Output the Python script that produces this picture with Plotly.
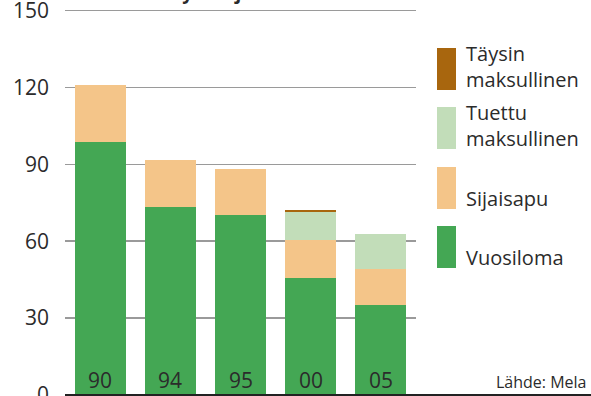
import plotly.graph_objects as go

years = ["90", "94", "95", "00", "05"]
vuosiloma = [98.7, 73.4, 70.1, 45.6, 35.1]
sijaisapu = [22.4, 18.1, 17.9, 14.8, 14.0]
tuettu = [0, 0, 0, 10.9, 13.6]
taysin = [0, 0, 0, 0.8, 0]

series_names = ["Vuosiloma", "Sijaisapu", "Tuettu<br>maksullinen", "Täysin<br>maksullinen"]
series_values = [vuosiloma, sijaisapu, tuettu, taysin]
colors = ["#44a754", "#f4c589", "#c2ddb9", "#a8660e"]

y_ticks = [0, 30, 60, 90, 120, 150]
title_text = "Tuhatta maatalousyrittäjää"
source_text = "Lähde: Mela"

W, H = 591, 396
L, R_EDGE, T, B_EDGE = 65, 416, 8, 395
PW, PH = R_EDGE - L, B_EDGE - T

def px(x):
    return (x - L) / PW

def py(y):
    return (B_EDGE - y) / PH

FONT = "Open Sans"
TXT = "#2b2b2b"

fig = go.Figure()
for name, vals, col in zip(series_names, series_values, colors):
    fig.add_trace(go.Bar(x=years, y=vals, name=name, marker=dict(color=col, line=dict(width=0)),
                         showlegend=False, hoverinfo="skip"))

annotations = []
for i, yr in enumerate(years):
    annotations.append(dict(x=i, xref="x", y=py(380), yref="paper", text=yr, showarrow=False,
                            font=dict(family=FONT, size=21, color=TXT), xanchor="center", yanchor="middle"))

shapes = []
legend_order = [3, 2, 1, 0]
sw_tops = [48, 107, 167, 226]
for idx, top in zip(legend_order, sw_tops):
    shapes.append(dict(type="rect", xref="paper", yref="paper", x0=px(437), x1=px(456),
                       y0=py(top + 42), y1=py(top), fillcolor=colors[idx], line=dict(width=0), layer="above"))
    annotations.append(dict(x=px(465), xref="paper", y=py(top + 46), yref="paper",
                            text=series_names[idx], showarrow=False, align="left",
                            font=dict(family=FONT, size=20, color=TXT),
                            xanchor="left", yanchor="bottom", borderpad=0))

shapes.append(dict(type="line", xref="paper", yref="paper", x0=0, x1=px(591), y0=0, y1=0,
                   line=dict(color="#222222", width=2), layer="above"))

annotations.append(dict(x=px(589), xref="paper", y=py(382), yref="paper", text=source_text,
                        showarrow=False, font=dict(family=FONT, size=16, color=TXT),
                        xanchor="right", yanchor="middle"))
annotations.append(dict(x=px(0), xref="paper", y=py(6.5), yref="paper", text="<b>" + title_text + "</b>",
                        showarrow=False, font=dict(family=FONT, size=19, color=TXT),
                        xanchor="left", yanchor="bottom", borderpad=0))

fig.update_layout(
    width=W, height=H,
    margin=dict(l=L, r=W - R_EDGE, t=T, b=H - B_EDGE, pad=0, autoexpand=False),
    barmode="stack", bargap=0.273,
    plot_bgcolor="white", paper_bgcolor="white",
    xaxis=dict(type="category", range=[-0.5, 4.5], showticklabels=False, showgrid=False, zeroline=False,
               showline=False, ticks="", automargin=False),
    yaxis=dict(range=[0, 151], tickvals=y_ticks, showgrid=True, gridcolor="#9a9a9a", gridwidth=1.6,
               zeroline=False, showline=False, ticks="", ticklabelstandoff=15,
               ticklabeloverflow="allow", automargin=False,
               tickfont=dict(family=FONT, size=21, color=TXT)),
    shapes=shapes, annotations=annotations,
)

fig.write_html("out.html", config={"displayModeBar": False, "staticPlot": True},
               post_script="document.body.style.margin='0';document.body.style.overflow='hidden';")
